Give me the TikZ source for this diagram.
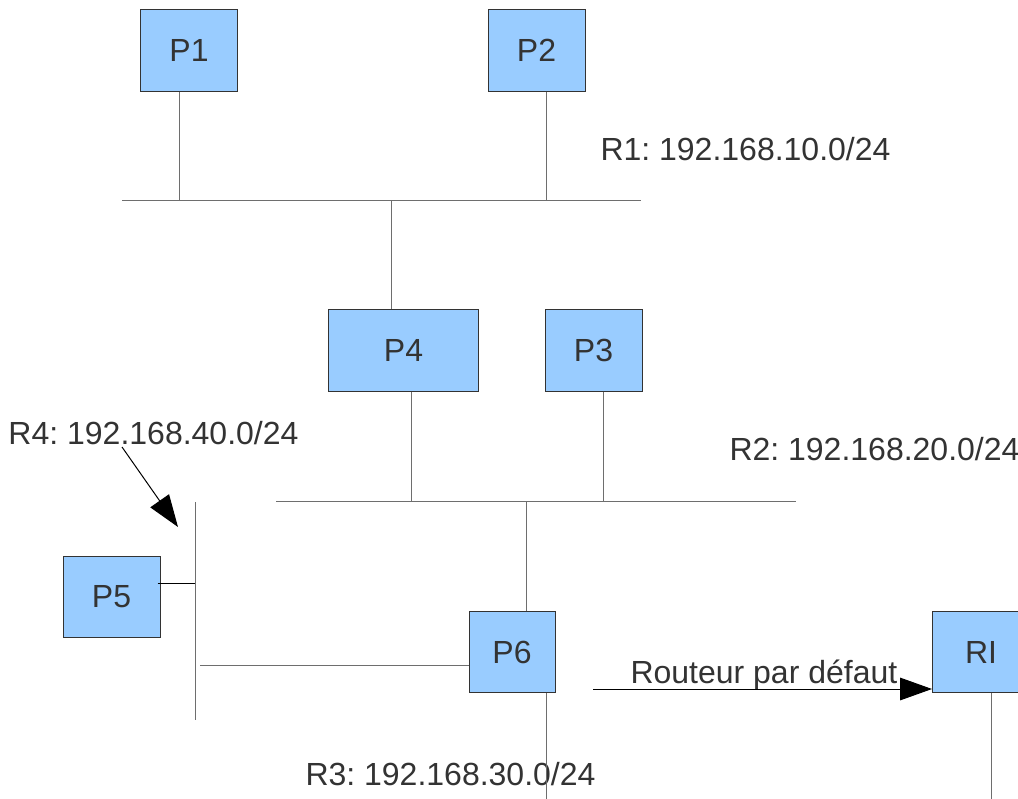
\documentclass[tikz,border=0pt]{standalone}
\usepackage{fontspec}
\setmainfont{Liberation Sans}
\frenchspacing
\usetikzlibrary{arrows.meta}
\definecolor{box_blue}{RGB}{153,204,255}
\definecolor{box_edge}{RGB}{51,51,51}
\definecolor{text_gray}{RGB}{51,51,51}
\definecolor{bus_gray}{RGB}{110,110,110}

\begin{document}
\begin{tikzpicture}[x=0.75pt,y=-0.75pt,line width=0.75pt,>={Triangle[length=24pt,width=17pt]}]
    \tikzstyle{host}=[draw=box_edge, fill=box_blue, text=text_gray, inner sep=0pt, minimum width=72.75pt, minimum height=61pt, font=\fontsize{24}{28}\selectfont]
    \tikzstyle{net}=[text=text_gray, inner sep=0pt, anchor=base west, font=\fontsize{24}{28}\selectfont]
    \tikzstyle{bus}=[draw=bus_gray,-]
    \tikzstyle{link}=[draw=black]

    \useasboundingbox (0,0) rectangle (1018,799);

    % machines
    \node[host]                     (p1) at (189,50.5)    {P1};
    \node[host]                     (p2) at (536.5,50.5)  {P2};
    \node[host,minimum width=113pt] (p4) at (403.5,350.5) {P4};
    \node[host]                     (p3) at (593.5,350.5) {P3};
    \node[host]                     (p5) at (111.5,597)   {P5};
    \node[host,minimum width=64.5pt] (p6) at (512,652)    {P6};
    \node[host]                     (ri) at (981,652)     {RI};

    % reseaux
    \node[net] (r1) at (600,161) {R1: 192.168.10.0/24};
    \node[net] (r2) at (729,460) {R2: 192.168.20.0/24};
    \node[net] (r4) at (8,444)   {R4: 192.168.40.0/24};
    \node[net] (r3) at (305,785) {R3: 192.168.30.0/24};
    \node[net] (gw) at (630,683) {Routeur par défaut};

    \coordinate (r1w) at (122,200);
    \coordinate (r1e) at (641,200);
    \coordinate (r1a) at (179,200);
    \coordinate (r1b) at (546,200);
    \coordinate (r1c) at (391,200);
    \coordinate (r2w) at (276,501);
    \coordinate (r2e) at (796,501);
    \coordinate (r2a) at (411,501);
    \coordinate (r2b) at (603,501);
    \coordinate (r2c) at (526,501);
    \coordinate (r4n) at (195,502);
    \coordinate (r4s) at (195,720);
    \coordinate (r4a) at (195,583);
    \coordinate (r4b) at (200,665);
    \coordinate (r3s) at (546,799);
    \coordinate (ris) at (991,799);
    \coordinate (r4tail) at (122,447);
    \coordinate (r4tip) at (178,527);
    \coordinate (gwtail) at (593,689);

    \path
     (r1w) edge[bus] (r1e)
     (p1.south -| r1a) edge[bus] (r1a)
     (p2.south -| r1b) edge[bus] (r1b)
     (r1c) edge[bus] (p4.north -| r1c)
     (r2w) edge[bus] (r2e)
     (p4.south -| r2a) edge[bus] (r2a)
     (p3.south -| r2b) edge[bus] (r2b)
     (r2c) edge[bus] (p6.north -| r2c)
     (r4n) edge[bus] (r4s)
     ([xshift=-2.25pt]p5.east |- r4a) edge[link] (r4a)
     (r4b) edge[bus] (p6.west |- r4b)
     (p6.south -| r3s) edge[bus] (r3s)
     (ri.south -| ris) edge[bus] (ris)
     (r4tail) edge[link,->] (r4tip)
     (gwtail) edge[link,->] (ri.west |- gwtail)
     ;
\end{tikzpicture}
\end{document}
